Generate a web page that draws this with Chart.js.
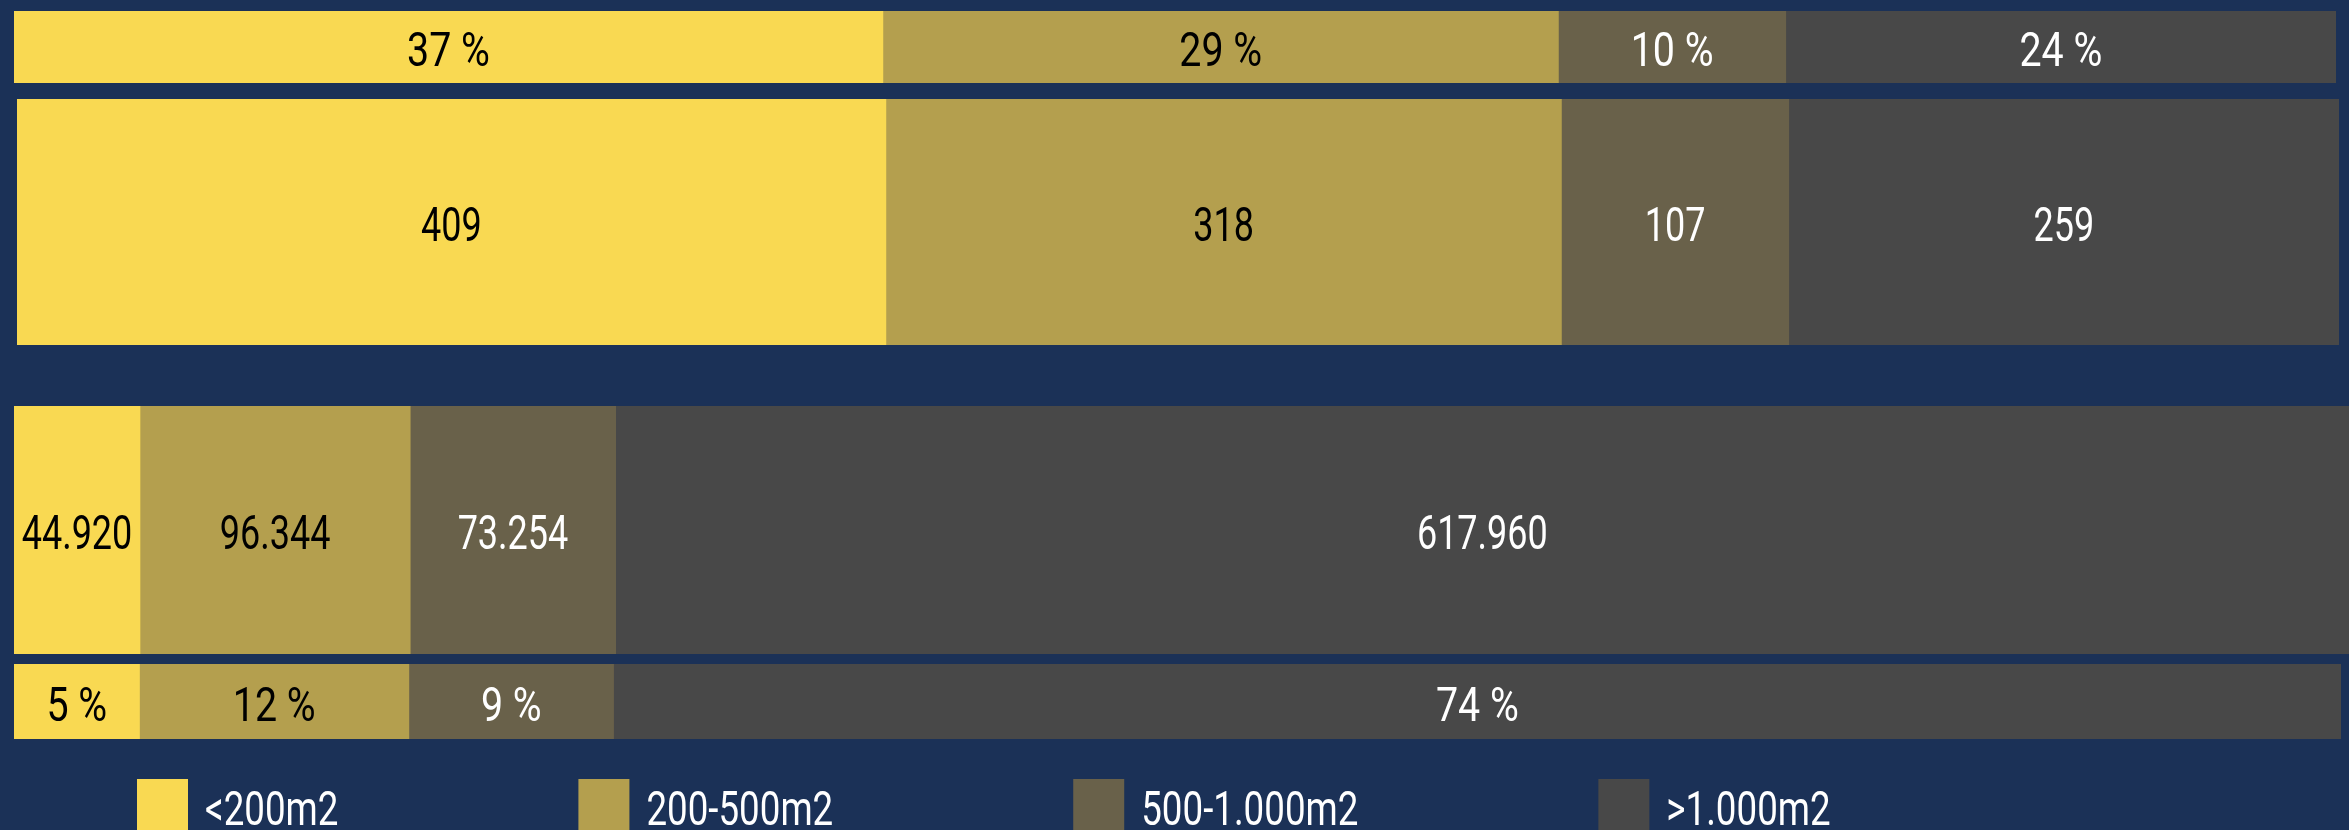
<!DOCTYPE html>
<html>
<head>
<meta charset="utf-8">
<script src="https://cdn.jsdelivr.net/npm/chart.js@4/dist/chart.umd.min.js"></script>
<style>
  html, body { margin: 0; padding: 0; background: #1b3157; width: 2349px; height: 830px; overflow: hidden; }
  canvas { position: absolute; }
</style>
</head>
<body>
<canvas id="rowPctCount" width="2322" height="72" style="left:14px;top:11px"></canvas>
<canvas id="rowCount" width="2322" height="246" style="left:17px;top:99px"></canvas>
<canvas id="rowArea" width="2335" height="248" style="left:14px;top:406px"></canvas>
<canvas id="rowPctArea" width="2349" height="166" style="left:0px;top:664px"></canvas>
<script>
// size classes
const classes = ['<200m2', '200-500m2', '500-1.000m2', '>1.000m2'];
const colors = ['#f9d952', '#b49f4e', '#69614a', '#484848'];
const textColors = ['#000000', '#000000', '#ffffff', '#ffffff'];

// number of items per class
const counts = [409, 318, 107, 259];
// surface (m2) per class
const areas = [44920, 96344, 73254, 617960];

const FONT = '48px Roboto';

function sum(arr) {
  return arr.reduce((a, b) => a + b, 0);
}

function drawSqueezed(ctx, text, x, y, align, squeeze) {
  ctx.save();
  ctx.translate(x, y);
  ctx.scale(squeeze, 1);
  ctx.textAlign = align;
  ctx.textBaseline = 'alphabetic';
  ctx.fillText(text, 0, 0);
  ctx.restore();
}

// writes the value in the middle of every segment
const segmentLabels = {
  id: 'segmentLabels',
  afterDatasetsDraw(chart, args, opts) {
    const ctx = chart.ctx;
    ctx.save();
    ctx.font = FONT;
    chart.data.datasets.forEach((ds, i) => {
      const bar = chart.getDatasetMeta(i).data[0];
      const cx = (bar.x + bar.base) / 2;
      const txt = opts.format(ds.data[0]);
      ctx.fillStyle = textColors[i];
      drawSqueezed(ctx, txt, cx, bar.y + 19, 'center', txt.includes('%') ? 0.82 : 0.75);
    });
    ctx.restore();
  }
};

// legend drawn under the last bar
const sizeLegend = {
  id: 'sizeLegend',
  afterDraw(chart, args, opts) {
    if (!opts.show) return;
    const ctx = chart.ctx;
    const squeeze = 0.765;
    ctx.save();
    ctx.font = FONT;
    let x = 137;
    const top = 115;
    classes.forEach((c, i) => {
      ctx.fillStyle = colors[i];
      ctx.fillRect(x, top, 51, 51);
      x += 51 + 17;
      ctx.fillStyle = '#ffffff';
      drawSqueezed(ctx, c, x, top + 46, 'left', squeeze);
      x += ctx.measureText(c).width * squeeze + 240;
    });
    ctx.restore();
  }
};

function stackedRow(id, values, format, padding, legend) {
  const total = sum(values);
  return new Chart(document.getElementById(id), {
    type: 'bar',
    data: {
      labels: [''],
      datasets: classes.map((c, i) => ({
        label: c,
        data: [values[i]],
        backgroundColor: colors[i],
        borderWidth: 0,
        barPercentage: 1,
        categoryPercentage: 1
      }))
    },
    options: {
      indexAxis: 'y',
      responsive: false,
      animation: false,
      layout: { padding: padding },
      scales: {
        x: { stacked: true, display: false, min: 0, max: total },
        y: { stacked: true, display: false }
      },
      plugins: {
        legend: { display: false },
        tooltip: { enabled: false },
        segmentLabels: { format: format },
        sizeLegend: { show: legend }
      }
    },
    plugins: [segmentLabels, sizeLegend]
  });
}

const pctOf = (arr) => (v) => Math.round((v / sum(arr)) * 100) + ' %';
const dotted = (v) => v.toLocaleString('de-DE');

stackedRow('rowPctCount', counts, pctOf(counts), 0, false);
stackedRow('rowCount', counts, dotted, 0, false);
stackedRow('rowArea', areas, dotted, 0, false);
stackedRow('rowPctArea', areas, pctOf(areas), { left: 14, right: 8, top: 0, bottom: 91 }, true);
</script>
</body>
</html>
